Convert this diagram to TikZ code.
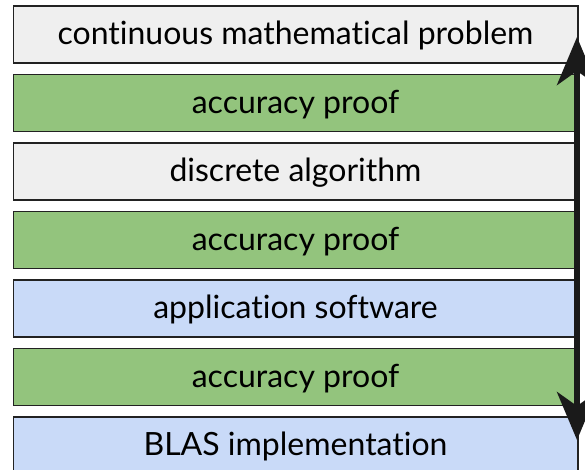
\documentclass[tikz,border=0pt]{standalone}
\usepackage{fontspec}
\setmainfont{Lato}[Ligatures={NoCommon,NoDiscretionary,NoRare}]
\usetikzlibrary{arrows.meta}
\definecolor{grayfill}{HTML}{EFEFEF}
\definecolor{greenfill}{HTML}{93C47D}
\definecolor{bluefill}{HTML}{C9DAF8}
\definecolor{edge}{HTML}{222222}
\definecolor{arrowc}{HTML}{1A1A1A}
\begin{document}
\begin{tikzpicture}[x=1pt,y=-1pt,
  layer/.style={draw=edge, line width=1.5pt, anchor=north west, minimum width=564.5pt, minimum height=57pt, inner sep=0pt, text height=26pt, text depth=5pt, font=\fontsize{32}{38}\selectfont, text=black},
  graylayer/.style={layer, fill=grayfill},
  greenlayer/.style={layer, fill=greenfill},
  bluelayer/.style={layer, fill=bluefill},
  bigarrow/.style={draw=arrowc, line width=6pt, {Stealth[length=48pt,width=40pt,inset=14pt]}-{Stealth[length=48pt,width=40pt,inset=14pt]}}
]
\useasboundingbox (0,0) rectangle (585,469);
\node[graylayer]  (l1) at (12.5,5)     {continuous mathematical problem};
\node[greenlayer] (l2) at (12.5,73.5)  {accuracy proof};
\node[graylayer]  (l3) at (12.5,142)   {discrete algorithm};
\node[greenlayer] (l4) at (12.5,210.5) {accuracy proof};
\node[bluelayer]  (l5) at (12.5,279)   {application software};
\node[greenlayer] (l6) at (12.5,347.5) {accuracy proof};
\node[bluelayer]  (l7) at (12.5,416)   {BLAS implementation};
\coordinate (top) at (577,37);
\coordinate (bot) at (577,440);
\draw[bigarrow] (top) -- (bot);
\end{tikzpicture}
\end{document}
